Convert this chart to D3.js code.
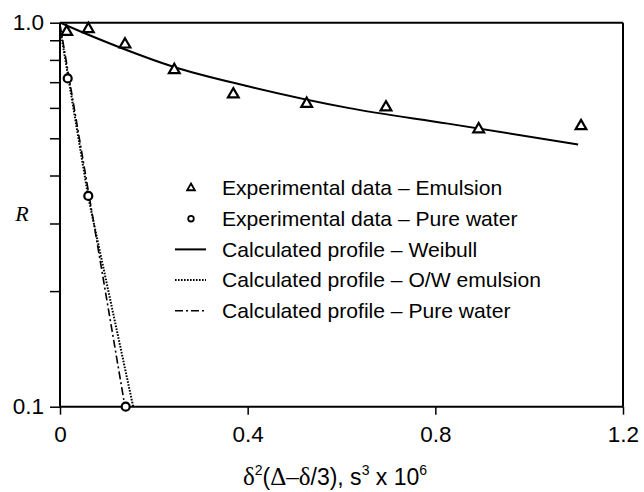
<!DOCTYPE html>
<html><head><meta charset="utf-8">
<script src="https://cdn.jsdelivr.net/npm/d3@7"></script>
<style>body{margin:0;background:#fff}svg{display:block}</style>
</head><body>
<svg id="c" width="644" height="492"></svg>
<script>
// ---- data ----
const emulsionX = [0.0143, 0.0604, 0.1385, 0.2436, 0.3694, 0.5258, 0.6948, 0.8924, 1.1105];
const emulsionR = [0.947, 0.963, 0.878, 0.753, 0.651, 0.615, 0.602, 0.528, 0.538];
const waterX = [0.0164, 0.0603, 0.140];
const waterR = [0.716, 0.354, 0.1];
const weibullX = [0, 0.0426, 0.1279, 0.2415, 0.4007, 0.6138, 0.8269, 1.1043];
const weibullR = [1.0, 0.950, 0.862, 0.768, 0.683, 0.600, 0.546, 0.482];
const owX = [0, 0.0605, 0.156];
const owR = [0.97, 0.35, 0.1];
const pwX = [0, 0.1385];
const pwR = [0.99, 0.1];
const xTicks = [0, 0.4, 0.8, 1.2];
const yTicks = [0.1, 0.2, 0.3, 0.4, 0.5, 0.6, 0.7, 0.8, 0.9, 1.0];
const yLabels = ["0.1", "", "", "", "", "", "", "", "", "1.0"];
const legendLabels = ["Experimental data \u2013 Emulsion", "Experimental data \u2013 Pure water",
  "Calculated profile \u2013 Weibull", "Calculated profile \u2013 O/W emulsion", "Calculated profile \u2013 Pure water"];
const legendKinds = ["tri", "circ", "solid", "dot", "dashdot"];

// ---- layout ----
const L = 60, R = 623, T = 22.7, B = 406.7;
const svg = d3.select("#c");
const x = d3.scaleLinear().domain([0, 1.2]).range([L, R]);
const y = d3.scaleLog().domain([0.1, 1]).range([B, T]);
const font = "Liberation Sans, Arial, Helvetica, sans-serif";
const serif = "Liberation Serif, Times New Roman, serif";

const styles = {
  solid: {dash: null, w: 2},
  dot: {dash: "1.6,1.4", w: 2},
  dashdot: {dash: "8,3,2,3", w: 1.6}
};

// frame top/right
svg.append("line").attr("x1", L).attr("x2", R).attr("y1", T).attr("y2", T).attr("stroke", "#000").attr("stroke-width", 2);
svg.append("line").attr("x1", R).attr("x2", R).attr("y1", T).attr("y2", B).attr("stroke", "#000").attr("stroke-width", 2);

// axes
const ya = d3.axisLeft(y).tickValues(yTicks).tickSize(10).tickPadding(6)
  .tickFormat((d, i) => yLabels[i]);
const gy = svg.append("g").attr("transform", `translate(${L},0)`).call(ya);
const xa = d3.axisBottom(x).tickValues(xTicks).tickSize(8).tickPadding(11)
  .tickFormat(d => d === 0 ? "0" : d3.format(".1f")(d));
const gx = svg.append("g").attr("transform", `translate(0,${B})`).call(xa);
[gx, gy].forEach(g => {
  g.select(".domain").remove();
  g.selectAll(".tick line").attr("stroke-width", 1.5);
  g.selectAll("text").attr("font-family", font).attr("font-size", 22.5).attr("fill", "#000");
});
svg.append("line").attr("x1", L).attr("x2", L).attr("y1", T).attr("y2", B).attr("stroke", "#000").attr("stroke-width", 2);
svg.append("line").attr("x1", L).attr("x2", R).attr("y1", B).attr("y2", B).attr("stroke", "#000").attr("stroke-width", 2);

// lines
const line = d3.line().x(d => x(d[0])).y(d => y(d[1]));
function drawLine(xs, rs, kind, curve) {
  const s = styles[kind];
  svg.append("path").attr("d", line.curve(curve || d3.curveLinear)(xs.map((v, i) => [v, rs[i]])))
    .attr("fill", "none").attr("stroke", "#000").attr("stroke-width", s.w)
    .attr("stroke-dasharray", s.dash);
}
drawLine(weibullX, weibullR, "solid", d3.curveMonotoneX);
drawLine(owX, owR, "dot");
drawLine(pwX, pwR, "dashdot");

// markers
const tri = d3.symbol().type(d3.symbolTriangle).size(50);
const triSmall = d3.symbol().type(d3.symbolTriangle).size(26);
svg.append("g").selectAll("path").data(emulsionX).join("path")
  .attr("d", tri).attr("transform", (d, i) => `translate(${x(d)},${y(emulsionR[i])})`)
  .attr("fill", "#fff").attr("stroke", "#000").attr("stroke-width", 2.2);
svg.append("g").selectAll("circle").data(waterX).join("circle")
  .attr("cx", d => x(d)).attr("cy", (d, i) => y(waterR[i])).attr("r", 4)
  .attr("fill", "#fff").attr("stroke", "#000").attr("stroke-width", 2.2);

// legend
const lg = svg.append("g");
const lx = 191, tx = 222, ly0 = 188, dy = 30.7;
legendLabels.forEach((lab, i) => {
  const yy = ly0 + i * dy;
  const k = legendKinds[i];
  if (k === "tri") {
    lg.append("path").attr("d", triSmall).attr("transform", `translate(${lx},${yy})`)
      .attr("fill", "#fff").attr("stroke", "#000").attr("stroke-width", 1.8);
  } else if (k === "circ") {
    lg.append("circle").attr("cx", lx).attr("cy", yy).attr("r", 2.8)
      .attr("fill", "#fff").attr("stroke", "#000").attr("stroke-width", 1.8);
  } else {
    const s = styles[k];
    lg.append("line").attr("x1", 175).attr("x2", 206).attr("y1", yy).attr("y2", yy)
      .attr("stroke", "#000").attr("stroke-width", s.w).attr("stroke-dasharray", s.dash);
  }
  lg.append("text").attr("x", tx).attr("y", yy).attr("dy", "0.35em")
    .attr("font-family", font).attr("font-size", 21.1).text(lab);
});

// y label
svg.append("text").attr("x", 22).attr("y", 221).attr("text-anchor", "middle")
  .attr("font-family", serif).attr("font-style", "italic")
  .attr("font-size", 22).text("R");

// x title
const xt = svg.append("text").attr("x", 335).attr("y", 485).attr("text-anchor", "middle")
  .attr("font-family", font).attr("font-size", 23);
xt.append("tspan").attr("font-family", serif).attr("font-size", 25).text("\u03b4");
xt.append("tspan").attr("font-size", 14).attr("dy", -10).text("2");
xt.append("tspan").attr("dy", 10).text("(");
xt.append("tspan").attr("font-family", serif).attr("font-size", 25).text("\u0394\u2013\u03b4");
xt.append("tspan").text("/3), s");
xt.append("tspan").attr("font-size", 14).attr("dy", -10).text("3");
xt.append("tspan").attr("dy", 10).text(" x 10");
xt.append("tspan").attr("font-size", 14).attr("dy", -10).text("6");
</script>
</body></html>
